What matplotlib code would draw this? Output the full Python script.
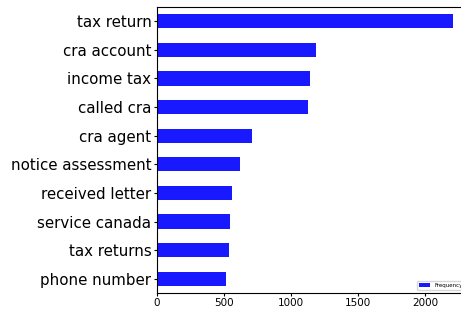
import numpy as np
import matplotlib
matplotlib.use("Agg")
import matplotlib.pyplot as plt

terms = ["tax return", "cra account", "income tax", "called cra", "cra agent",
         "notice assessment", "received letter", "service canada", "tax returns",
         "phone number"]
freq = [2209, 1187, 1142, 1127, 709, 619, 560, 545, 537, 515]

fig = plt.figure(figsize=(4.61, 3.09), dpi=100)
# axes runs past the right edge, as in the cropped original
ax = fig.add_axes([157 / 461, 16 / 309, 311 / 461, 286 / 309])
y = np.arange(len(terms))[::-1]
ax.barh(y, freq, height=0.5, color="blue", alpha=0.9, label="Frequency")
ax.set_yticks(y)
ax.set_yticklabels(terms, fontsize=10.8)
ax.set_ylim(-0.5, len(terms) - 0.5)
ax.set_xlim(0, max(freq) * 1.05)
ax.tick_params(axis="x", labelsize=7.5, length=2, pad=1.5)
ax.tick_params(axis="y", length=2.5, pad=1.5)
ax.legend(loc="lower right", fontsize=4)
fig.savefig("out.png", dpi=100)
